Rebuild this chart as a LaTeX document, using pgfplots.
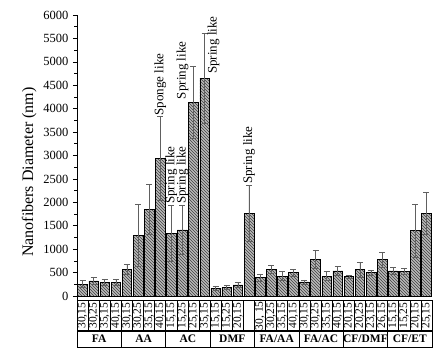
\documentclass[border=0pt]{standalone}
\usepackage{pgfplots}
\pgfplotsset{compat=1.18}
\usepackage{pgfplotstable}
\usepackage{fontspec}
\setmainfont{Liberation Serif}
\usetikzlibrary{patterns}

\pgfplotstableread{
x y err
0 255 70
1 325 70
2 285 65
3 290 65
4 570 107
5 1300 660
6 1850 535
7 2940 890
8 1340 600
9 1410 530
10 4130 770
11 4650 960
12 170 40
13 185 35
14 240 60
15 1765 600
16 392 80
17 570 90
18 427 100
19 498 75
20 299 45
21 790 190
22 427 90
23 534 90
24 413 30
25 562 160
26 498 60
27 776 160
28 534 70
29 520 65
30 1395 570
31 1765 450
}\diam

\begin{document}
\begin{tikzpicture}
\path[use as bounding box] (-77pt,-59pt) rectangle (366pt,296pt);
\begin{axis}[
  scale only axis,
  width=355pt, height=281pt,
  anchor=south west, at={(0pt,0pt)},
  xmin=-0.5, xmax=31.5,
  ymin=0, ymax=6000,
  axis y line*=left,
  axis x line*=bottom,
  clip=false,
  ytick distance=500,
  minor y tick num=1,
  tick align=outside,
  major tick length=4pt,
  minor tick length=2.5pt,
  tick style={black, line width=0.6pt},
  axis line style={line width=0.7pt},
  /pgf/number format/assume math mode=true,
  scaled y ticks=false,
  yticklabel style={font=\fontsize{12.5}{13}\selectfont, /pgf/number format/1000 sep={}, xshift=-1pt},
  ylabel={Nanofibers Diameter (nm)},
  ylabel style={font=\fontsize{16}{17}\selectfont, at={(ticklabel cs:0.448)}, xshift=-2pt},
  xtick={0,...,31},
  x tick style={draw=none},
  xticklabels={{30,15},{30,25},{35,15},{40,15},
               {30,15},{30,25},{35,15},{40,15},
               {15,15},{15,25},{25,15},{35,15},
               {15,15},{15,25},{20,15},{\ },
               {30, 15},{30,25},{35,15},{40,15},
               {30,15},{30,25},{35,15},{40,15},
               {20,15},{20,25},{23,15},{26,15},
               {15,15},{15,25},{20,15},{25,15}},
  xticklabel style={rotate=90, anchor=east, draw, line width=0.6pt,
     minimum width=31pt, minimum height=11.1pt, inner sep=0pt,
     font=\fontsize{11.5}{11.5}\selectfont},
  xticklabel shift=0pt,
]
\addplot[ybar, bar width=9.6pt, draw=black, line width=0.5pt,
  fill=gray!55, postaction={pattern=north west lines, pattern color=black!75},
  error bars/.cd, y dir=both, y explicit,
  error bar style={gray!75!black, line width=0.6pt},
  error mark options={rotate=90, mark size=3pt, gray!75!black, line width=0.6pt}]
  table[x=x, y=y, y error=err] {\diam};

\tikzset{lab/.style={rotate=90, anchor=west, inner sep=1pt, font=\fontsize{13}{13}\selectfont}}
\node[lab] at (axis cs:7,3830) {Sponge like};
\node[lab] at (axis cs:8,1943) {Spring like};
\node[lab] at (axis cs:9,1943) {Spring like};
\node[lab] at (axis cs:9,4180) {Spring like};
\node[lab] at (axis cs:11.8,4720) {Spring like};
\node[lab] at (axis cs:15,2370) {Spring like};

\draw[line width=0.7pt] (axis cs:-0.5,0) -- ++(0pt,-51pt);
\draw[line width=0.6pt] (axis cs:-0.5,0) ++(0pt,-34pt) rectangle ++(355pt,-17pt);
\draw[line width=0.6pt] (axis cs:3.5,0) ++(0pt,-34pt) -- ++(0pt,-17pt);
\draw[line width=0.6pt] (axis cs:7.5,0) ++(0pt,-34pt) -- ++(0pt,-17pt);
\draw[line width=0.6pt] (axis cs:11.5,0) ++(0pt,-34pt) -- ++(0pt,-17pt);
\draw[line width=0.6pt] (axis cs:15.5,0) ++(0pt,-34pt) -- ++(0pt,-17pt);
\draw[line width=0.6pt] (axis cs:19.5,0) ++(0pt,-34pt) -- ++(0pt,-17pt);
\draw[line width=0.6pt] (axis cs:23.5,0) ++(0pt,-34pt) -- ++(0pt,-17pt);
\draw[line width=0.6pt] (axis cs:27.5,0) ++(0pt,-34pt) -- ++(0pt,-17pt);
\tikzset{grp/.style={font=\fontsize{11.5}{11.5}\selectfont\bfseries, yshift=-42.5pt}}
\node[grp] at (axis cs:1.5,0) {FA};
\node[grp] at (axis cs:5.5,0) {AA};
\node[grp] at (axis cs:9.5,0) {AC};
\node[grp] at (axis cs:13.5,0) {DMF};
\node[grp] at (axis cs:17.5,0) {FA/AA};
\node[grp] at (axis cs:21.5,0) {FA/AC};
\node[grp] at (axis cs:25.5,0) {CF/DMF};
\node[grp] at (axis cs:29.5,0) {CF/ET};
\end{axis}
\end{tikzpicture}
\end{document}
